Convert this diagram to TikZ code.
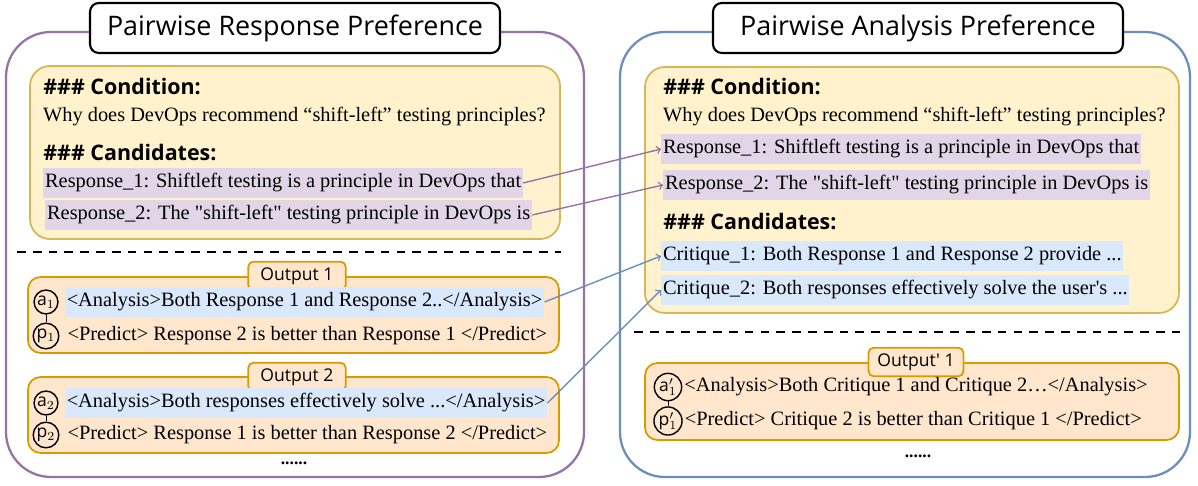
\documentclass[tikz,border=0pt]{standalone}
\usepackage{fontspec}
\setmainfont{Liberation Serif}[Ligatures=TeXOff]
\setsansfont{Open Sans}[Ligatures=TeXOff]
\usetikzlibrary{arrows,positioning}
\definecolor{purp}{HTML}{9673A6}
\definecolor{blu}{HTML}{6C8EBF}
\definecolor{condfill}{HTML}{FFF2CC}
\definecolor{conddraw}{HTML}{D6B656}
\definecolor{outfill}{HTML}{FFE6CC}
\definecolor{outdraw}{HTML}{D79B00}
\definecolor{hlpurp}{HTML}{E1D5E7}
\definecolor{hlblue}{HTML}{DAE8FC}

\begin{document}
\begin{tikzpicture}[x=0.02cm,y=-0.02cm,>=to,
  panel/.style={line width=1.3pt,rounded corners=0.9cm},
  title/.style={draw,fill=white,line width=1.2pt,rounded corners=5pt,minimum height=1cm,font=\sffamily\fontsize{15.3}{17}\selectfont},
  cond/.style={draw=conddraw,fill=condfill,line width=1pt,rounded corners=0.4cm},
  outp/.style={draw=outdraw,fill=outfill,line width=1pt,rounded corners=0.25cm},
  olabel/.style={draw=outdraw,fill=outfill,line width=1pt,rounded corners=3pt,minimum width=1.95cm,minimum height=0.5cm,font=\sffamily\fontsize{10}{11}\selectfont},
  head/.style={anchor=west,inner sep=0pt,font=\sffamily\bfseries\fontsize{12.2}{14}\selectfont},
  txt/.style={anchor=west,inner xsep=1pt,minimum height=0.46cm,font=\fontsize{11.6}{13}\selectfont},
  rsel/.style={txt,fill=hlpurp},
  csel/.style={txt,fill=hlblue},
  tok/.style={draw,circle,line width=0.8pt,inner sep=0.5pt,minimum size=0.42cm,font=\sffamily\fontsize{10}{11}\selectfont},
  sep/.style={line width=1.3pt,dash pattern=on 5pt off 4pt},
  link/.style={->,line width=0.8pt}]
\useasboundingbox (0,0) rectangle (1198,486);

% left panel
\draw[panel,purp] (6,32) rectangle (584,477);
\node[title,minimum width=8.2cm] (lt) at (295,28) {Pairwise Response Preference};
\draw[cond] (30,66) rectangle (560,239);
\node[head] (lc) at (43,87) {\#\#\# Condition:};
\node[txt] (lq) at (41,117) {Why does DevOps recommend “shift-left” testing principles?};
\node[head] (lk) at (43,153) {\#\#\# Candidates:};
\node[rsel] (lr1) at (43,183) {Response\_1: Shiftleft testing is a principle in DevOps that\hspace{0.6em}};
\node[rsel] (lr2) at (45,215) {Response\_2: The "shift-left" testing principle in DevOps is\hspace{0.6em}};
\draw[sep] (17,252) -- (561,252);

\draw[outp] (28,277) rectangle (559,353);
\node[olabel] (lo1) at (297,276) {Output 1};
\node[tok] (a1) at (46,302) {a$_1$};
\node[tok] (p1) at (46,336) {p$_1$};
\draw (a1) -- (p1);
\node[csel,right=0.12cm of a1] (la1) {<Analysis>Both Response 1 and Response 2..</Analysis>};
\node[txt,right=0.12cm of p1] (lp1) {<Predict> Response 2 is better than Response 1 </Predict>};

\draw[outp] (28,377) rectangle (559,453);
\node[olabel] (lo2) at (297,377) {Output 2};
\node[tok] (a2) at (46,403) {a$_2$};
\node[tok] (p2) at (46,435) {p$_2$};
\draw (a2) -- (p2);
\node[csel,right=0.12cm of a2] (la2) {<Analysis>Both responses effectively solve ...</Analysis>};
\node[txt,right=0.12cm of p2] (lp2) {<Predict> Response 1 is better than Response 2 </Predict>};
\node (ld) at (294,463) {\bfseries ......};

% right panel
\draw[panel,blu] (620,32) rectangle (1190,477);
\node[title,minimum width=8.2cm] (rt) at (918,28) {Pairwise Analysis Preference};
\draw[cond] (645,67) rectangle (1179,313);
\node[head] (rc) at (663,87) {\#\#\# Condition:};
\node[txt] (rq) at (661,117) {Why does DevOps recommend “shift-left” testing principles?};
\node[rsel] (rr1) at (661,149) {Response\_1: Shiftleft testing is a principle in DevOps that\hspace{0.6em}};
\node[rsel] (rr2) at (663,185) {Response\_2: The "shift-left" testing principle in DevOps is\hspace{0.6em}};
\node[head] (rk) at (663,222) {\#\#\# Candidates:};
\node[csel] (rc1) at (661,256) {Critique\_1: Both Response 1 and Response 2 provide ...\hspace{0.3em}};
\node[csel] (rc2) at (661,290) {Critique\_2: Both responses effectively solve the user's ...\hspace{0.3em}};
\draw[sep] (634,332) -- (1186,332);

\draw[outp] (645,363) rectangle (1179,440);
\node[olabel,minimum width=1.9cm] (ro1) at (916,362) {Output' 1};
\node[tok] (ra1) at (668,387) {a$'_1$};
\node[tok] (rp1) at (668,421) {p$'_1$};
\draw (ra1) -- (rp1);
\node[txt,right=0pt of ra1] (rla1) {<Analysis>Both Critique 1 and Critique 2…</Analysis>};
\node[txt,right=0pt of rp1] (rlp1) {<Predict> Critique 2 is better than Critique 1 </Predict>};
\node (rd) at (918,456) {\bfseries ......};

% links
\path[link,purp] (lr1.east) edge (rr1.west)
                 (lr2.east) edge (rr2.west);
\path[link,blu] (la1.east) edge (rc1.west)
                (la2.east) edge (rc2.west);
\end{tikzpicture}
\end{document}
